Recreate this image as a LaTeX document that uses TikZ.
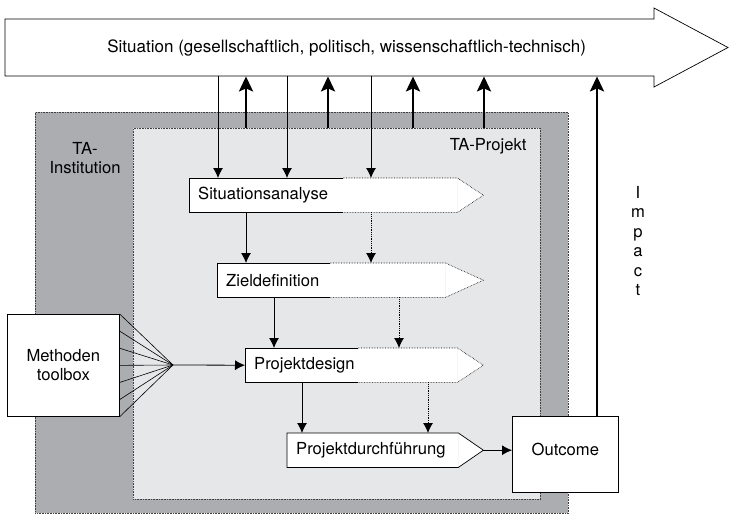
\documentclass[tikz,border=0pt]{standalone}
\usepackage{fontspec}
\setmainfont{TeX Gyre Heros}
\usetikzlibrary{arrows.meta,calc}

\definecolor{institutiongrey}{HTML}{ACADB0}
\definecolor{projektgrey}{HTML}{E6E7E9}

\tikzset{
	box/.style = {draw, line width=0.7pt, fill=white},
	area/.style = {draw=black!75, densely dotted, line width=0.6pt, anchor=north west},
	phase/.style = {anchor=north west, fill=white, minimum height=34pt, inner xsep=9pt, align=left},
	down/.style = {-{Latex[length=10pt, width=10pt]}, line width=0.8pt},
	up/.style = {-{Stealth[length=15pt, width=14pt, inset=3pt]}, line width=2.6pt},
}

\begin{document}
\begin{tikzpicture}[x=1pt, y=-1pt, font=\fontsize{16.6}{19.4}\selectfont]
	\useasboundingbox (0,0) rectangle (729,515);
	
	%	situation arrow
	\draw[box] (5,19) -- (654,19) -- (654,8) -- (728,47.5) -- (654,87) -- (654,76) -- (5,76) -- cycle;
	\node (situation) [minimum width=683pt, minimum height=57pt, inner sep=0pt, anchor=north west, font=\fontsize{17}{20}\selectfont] at (5,19) {Situation (gesellschaftlich, politisch, wissenschaftlich-technisch)};
	
	%	TA areas
	\node (institution) [area, fill=institutiongrey, minimum width=533pt, minimum height=401pt] at (35,112) {};
	\node (projekt) [area, fill=projektgrey, minimum width=407pt, minimum height=371pt] at (133,128) {};
	\node (institutionlabel) [align=center] at (85,158) {TA-\\Institution};
	\node (projektlabel) [anchor=east] at (530,146) {TA-Projekt};
	
	%	phases
	\node (analyse) [phase, text width=250pt] at (189,178) {Situationsanalyse};
	\node (ziel) [phase, text width=210pt] at (217,263) {Zieldefinition};
	\node (design) [phase, text width=194pt] at (245,348) {Projektdesign};
	\node (durch) [phase, text width=153pt] at (287,433) {Projektdurchführung};
	
	\foreach \n/\s/\t in {analyse/154/26, ziel/113/38, design/113/26}{
		\fill[white] (\n.north east) -- ([xshift=\t pt]\n.east) -- (\n.south east) -- cycle;
		\draw[line width=0.7pt] ([xshift=\s pt]\n.north west) -- (\n.north west) -- (\n.south west) -- ([xshift=\s pt]\n.south west);
		\draw[line width=0.6pt, densely dotted] ([xshift=\s pt]\n.north west) -- (\n.north east) -- ([xshift=\t pt]\n.east) -- (\n.south east) -- ([xshift=\s pt]\n.south west);
	}
	\fill[white] (durch.north east) -- ([xshift=25pt]durch.east) -- (durch.south east) -- cycle;
	\draw[line width=0.7pt] (durch.north west) -- (durch.north east) -- ([xshift=25pt]durch.east) coordinate (durchtip) -- (durch.south east) -- (durch.south west) -- cycle;
	
	%	outcome and toolbox
	\node (outcome) [box, minimum width=106pt, minimum height=76pt, anchor=north west, label={[yshift=5pt]center:Outcome}] at (512,416) {};
	\node (toolbox) [box, minimum width=112pt, minimum height=102pt, anchor=north west, align=center] at (7,314) {Methoden\\toolbox};
	\node (impactlabel) [align=center] at (638,241) {I\\m\\p\\a\\c\\t};
	
	%	fan
	\coordinate (fan) at (173,365);
	\foreach \i in {0,...,6}
		\draw[line width=0.6pt] ($(toolbox.north east)!\i/6!(toolbox.south east)$) -- (fan);
	\draw[down] (fan) -- (design.west);
	
	%	arrows
	\foreach \x in {218,287,371}
		\draw[down] (situation.south -| \x,0) -- (analyse.north -| \x,0);
	\foreach \x in {246,328,413,484}
		\draw[up] (projekt.north -| \x,0) -- (situation.south -| \x,0);
	\foreach \a/\b/\x/\y in {analyse/ziel/246/371, ziel/design/274/399, design/durch/302/428}{
		\draw[down] (\a.south -| \x,0) -- (\b.north -| \x,0);
		\draw[down, densely dotted] (\a.south -| \y,0) -- (\b.north -| \y,0);
	}
	\draw[down] (durchtip) -- (durchtip -| outcome.west);
	\draw[up] (outcome.north -| 597,0) -- (situation.south -| 597,0);
\end{tikzpicture}
\end{document}
